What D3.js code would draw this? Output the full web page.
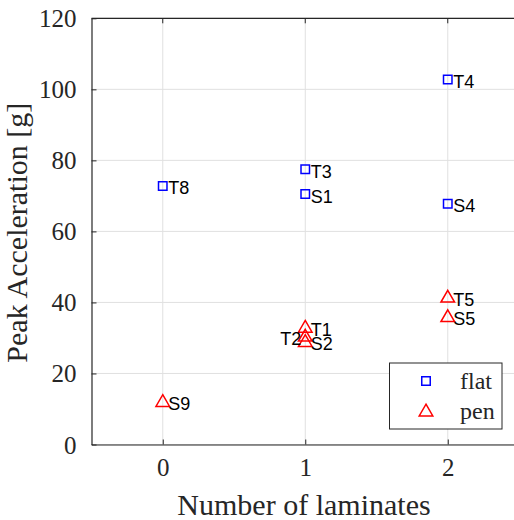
<!DOCTYPE html>
<html>
<head>
<meta charset="utf-8">
<script src="https://cdn.jsdelivr.net/npm/d3@7"></script>
<style>
  html, body { margin: 0; padding: 0; background: #fff; }
  svg { display: block; overflow: hidden; }
</style>
</head>
<body>
<div id="chart"></div>
<script>
// Peak acceleration per number of laminates, by impactor shape
const flatLabels = ["T8", "T3", "S1", "T4", "S4"];
const flatLaminates = [0, 1, 1, 2, 2];
const flatPeak = [72.8, 77.5, 70.5, 102.8, 67.8];

const penLabels = ["S9", "T1", "T2", "S2", "T5", "S5"];
const penLaminates = [0, 1, 1, 1, 2, 2];
const penPeak = [12.1, 33.0, 30.5, 29.0, 41.5, 36.0];
// labels drawn on the left of their marker
const leftLabels = ["T2"];

const xTicks = [0, 1, 2];
const yTicks = [0, 20, 40, 60, 80, 100, 120];
const xTitle = "Number of laminates";
const yTitle = "Peak Acceleration [g]";
const legendNames = ["flat", "pen"];

const W = 514, H = 520;
const plot = { left: 91.5, top: 18.3, right: 519, bottom: 444.5 };

const svg = d3.select("#chart").append("svg")
  .attr("width", W).attr("height", H);

const x = d3.scaleLinear().domain([-0.5, 2.5]).range([plot.left, plot.right]);
const y = d3.scaleLinear().domain([0, 120]).range([plot.bottom, plot.top]);

const serif = "'Liberation Serif', 'Times New Roman', serif";
const sans = "'Liberation Sans', Arial, Helvetica, sans-serif";
const axisColor = "#262626";

// grid
const grid = svg.append("g");
grid.selectAll("line.gx").data(xTicks).join("line")
  .attr("x1", d => x(d)).attr("x2", d => x(d))
  .attr("y1", plot.top).attr("y2", plot.bottom)
  .attr("stroke", "#e0e0e0").attr("stroke-width", 1);
grid.selectAll("line.gy").data(yTicks).join("line")
  .attr("y1", d => y(d)).attr("y2", d => y(d))
  .attr("x1", plot.left).attr("x2", plot.right)
  .attr("stroke", "#e0e0e0").attr("stroke-width", 1);

// axes with inward ticks
const xAxis = d3.axisBottom(x).tickValues(xTicks).tickFormat(d3.format("d"))
  .tickSizeInner(-5).tickSizeOuter(0).tickPadding(14);
const yAxis = d3.axisLeft(y).tickValues(yTicks).tickFormat(d3.format("d"))
  .tickSizeInner(-5).tickSizeOuter(0).tickPadding(15);

const gx = svg.append("g").attr("transform", `translate(0,${plot.bottom})`).call(xAxis);
const gy = svg.append("g").attr("transform", `translate(${plot.left},0)`).call(yAxis);
[gx, gy].forEach(g => {
  g.select(".domain").attr("stroke", axisColor).attr("stroke-width", 1.2);
  g.selectAll(".tick line").attr("stroke", axisColor).attr("stroke-width", 1);
  g.selectAll(".tick text").attr("fill", axisColor)
    .style("font-family", serif).style("font-size", "25px");
});
gy.selectAll(".tick text").attr("dy", "0.34em");

// top frame edge
svg.append("line")
  .attr("x1", plot.left).attr("x2", plot.right)
  .attr("y1", plot.top).attr("y2", plot.top)
  .attr("stroke", axisColor).attr("stroke-width", 1.2);

// top tick marks
svg.append("g").selectAll("line").data(xTicks).join("line")
  .attr("x1", d => x(d)).attr("x2", d => x(d))
  .attr("y1", plot.top).attr("y2", plot.top + 5)
  .attr("stroke", axisColor);

// axis titles
svg.append("text")
  .attr("x", 304).attr("y", 515)
  .attr("text-anchor", "middle").attr("fill", axisColor)
  .style("font-family", serif).style("font-size", "30px")
  .text(xTitle);

svg.append("text")
  .attr("transform", "translate(27,232.7) rotate(-90)")
  .attr("text-anchor", "middle").attr("fill", axisColor)
  .style("font-family", serif).style("font-size", "30px")
  .text(yTitle);

// marker symbols
const sq = d3.symbol().type(d3.symbolSquare).size(72);
const tri = d3.symbol().type(d3.symbolTriangle).size(80);

const flat = flatLabels.map((l, i) => ({ label: l, x: flatLaminates[i], y: flatPeak[i] }));
const pen = penLabels.map((l, i) => ({ label: l, x: penLaminates[i], y: penPeak[i] }));

svg.append("g").selectAll("path").data(flat).join("path")
  .attr("d", sq)
  .attr("transform", d => `translate(${x(d.x)},${y(d.y)})`)
  .attr("fill", "none").attr("stroke", "#0000ff").attr("stroke-width", 1.5);

svg.append("g").selectAll("path").data(pen).join("path")
  .attr("d", tri)
  .attr("transform", d => `translate(${x(d.x)},${y(d.y) + 1})`)
  .attr("fill", "none").attr("stroke", "#ff0000").attr("stroke-width", 1.5);

// point labels
const allPts = flat.concat(pen);
svg.append("g").selectAll("text").data(allPts).join("text")
  .attr("x", d => leftLabels.includes(d.label) ? x(d.x) - 4 : x(d.x) + 5.5)
  .attr("y", d => y(d.y) + 2)
  .attr("dy", "0.36em")
  .attr("text-anchor", d => leftLabels.includes(d.label) ? "end" : "start")
  .attr("fill", "#000")
  .style("font-family", sans).style("font-size", "18px")
  .text(d => d.label);

// legend
const leg = svg.append("g");
leg.append("rect")
  .attr("x", 389.5).attr("y", 363).attr("width", 112.5).attr("height", 66)
  .attr("fill", "#fff").attr("stroke", axisColor).attr("stroke-width", 1);
const legSyms = [sq, tri];
const legColors = ["#0000ff", "#ff0000"];
legendNames.forEach((name, i) => {
  const cy = 381 + i * 30;
  leg.append("path").attr("d", legSyms[i])
    .attr("transform", `translate(426,${cy + (i ? 1 : 0)})`)
    .attr("fill", "none").attr("stroke", legColors[i]).attr("stroke-width", 1.5);
  leg.append("text")
    .attr("x", 460).attr("y", cy + 8)
    .attr("fill", axisColor)
    .style("font-family", serif).style("font-size", "24px")
    .text(name);
});
</script>
</body>
</html>
